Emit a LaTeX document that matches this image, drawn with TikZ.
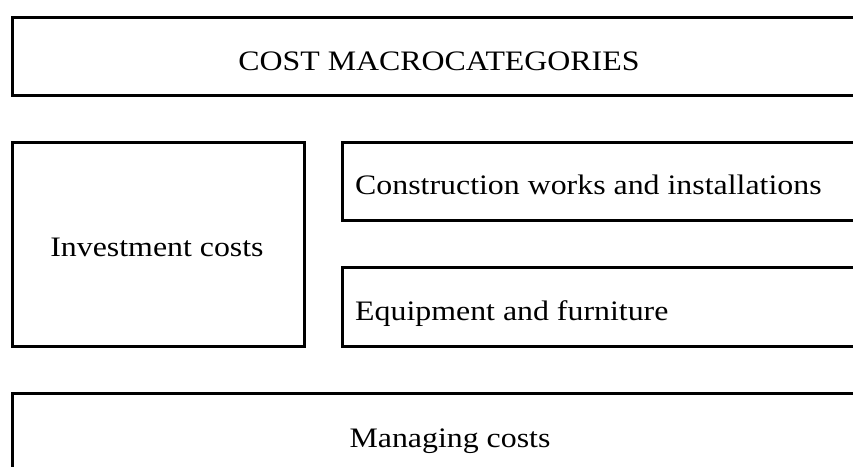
\documentclass[tikz,border=0pt]{standalone}
\usepackage{fontspec}
\setmainfont[FakeStretch=1.13]{Liberation Serif}
\begin{document}
\begin{tikzpicture}[x=1pt,y=-1pt,
  box/.style={draw=black,line width=2.8pt,minimum width=#1,inner sep=0pt,anchor=north west},
  lbl/.style={inner sep=0pt,font=\fontsize{28.2}{32}\selectfont}]
\useasboundingbox (0,0) rectangle (853,466);
\clip (0,0) rectangle (853,466);
\node[box=880pt,minimum height=78pt] (top) at (11,15.7) {};
\node[box=292pt,minimum height=204pt] (inv) at (11,140.7) {};
\node[box=540pt,minimum height=78.5pt] (con) at (341,140.7) {};
\node[box=540pt,minimum height=79pt] (equ) at (341,265.7) {};
\node[box=880pt,minimum height=100pt] (man) at (11,391.7) {};
\node[lbl,anchor=base] (ttop) at (439,70) {COST MACROCATEGORIES};
\node[lbl,anchor=base] (tinv) at (157,256) {Investment costs};
\node[lbl,anchor=base west] (tcon) at (355,194) {Construction works and installations};
\node[lbl,anchor=base west] (tequ) at (355,320) {Equipment and furniture};
\node[lbl,anchor=base] (tman) at (450,447) {Managing costs};
\end{tikzpicture}
\end{document}
